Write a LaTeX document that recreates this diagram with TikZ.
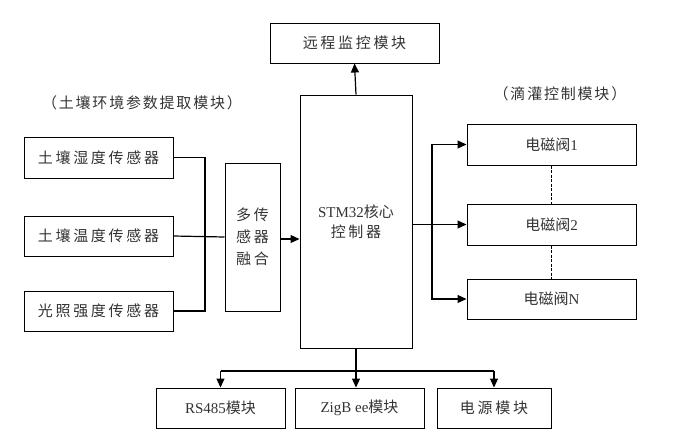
\documentclass[tikz,border=0pt]{standalone}
\usepackage{fontspec}
\setmainfont{Liberation Serif}
\newfontfamily\cjk[LetterSpace=18]{Noto Sans CJK SC}
\newfontfamily\cjkl[LetterSpace=12]{Noto Sans CJK SC}
\newfontfamily\cjkn[LetterSpace=0]{Noto Sans CJK SC}
\usetikzlibrary{arrows.meta}
\begin{document}
\begin{tikzpicture}[x=1pt,y=-1pt,
  box/.style={draw,line width=1pt,inner sep=0pt,text=black!80,font=\fontsize{15}{18}\selectfont},
  conn/.style={line width=1.2pt},
  arr/.style={conn,-{Triangle[length=9pt,width=8pt]}},
  lbl/.style={inner sep=0pt,text=black!80,font=\fontsize{15}{18}\selectfont}]
\useasboundingbox (0,0) rectangle (683,440);
% top
\node[box,minimum width=169pt,minimum height=40pt] (remote) at (354.5,43) {\cjk 远程监控模块};
\node[box,minimum width=112pt,minimum height=253pt,align=center] (stm) at (356,221.5)
  {STM32{\cjkn 核心}\\[2pt]{\cjk 控制器}};
% sensors
\node[lbl] (lab1) at (142,103) {\cjkl （土壤环境参数提取模块）};
\node[box,minimum width=149pt,minimum height=41pt] (s1) at (98.5,157.5) {\cjk 土壤湿度传感器};
\node[box,minimum width=149pt,minimum height=40pt] (s2) at (98.5,236) {\cjk 土壤温度传感器};
\node[box,minimum width=149pt,minimum height=40pt] (s3) at (98.5,311) {\cjk 光照强度传感器};
\node[box,minimum width=55pt,minimum height=148pt,align=center] (fuse) at (252.5,237)
  {\cjk 多传\\[4pt]\cjk 感器\\[4pt]\cjk 融合};
% valves
\node[lbl] (lab2) at (560,94) {\cjkl （滴灌控制模块）};
\node[box,minimum width=169pt,minimum height=41pt] (v1) at (551.5,144.5) {{\cjkn 电磁阀}1};
\node[box,minimum width=169pt,minimum height=41pt] (v2) at (551.5,224.5) {{\cjkn 电磁阀}2};
\node[box,minimum width=169pt,minimum height=40pt] (vN) at (551.5,299) {{\cjkn 电磁阀}N};
% bottom
\node[box,minimum width=129pt,minimum height=40pt] (b1) at (220.5,408) {RS485{\cjkn 模块}};
\node[box,minimum width=129pt,minimum height=40pt] (b2) at (359.5,408) {ZigB ee{\cjkn 模块}};
\node[box,minimum width=114pt,minimum height=40pt] (b3) at (494,408) {\cjk 电源模块};
% coordinates
\coordinate (lbus) at (205,236);
\coordinate (rbus) at (432,224.5);
\coordinate (bbus) at (356,371);
% left connectors
\draw[conn] (s1.east) -| (lbus) |- (s3.east);
\draw[conn] (s2.east) -- (fuse.west);
\draw[arr] (fuse.east |- 0,239) -- (stm.west |- 0,239);
% top
\draw[arr] (stm.north) -- (remote.south);
% right
\draw[conn] (stm.east |- rbus) -- (rbus);
\draw[arr] (rbus) -- (v2.west);
\draw[arr] (rbus) |- (v1.west);
\draw[arr] (rbus) |- (vN.west);
\draw[line width=0.9pt,dash pattern=on 3pt off 1.5pt] (v1.south) -- (v2.north);
\draw[line width=0.9pt,dash pattern=on 3pt off 1.5pt] (v2.south) -- (vN.north);
% bottom
\draw[conn] (stm.south) -- (bbus);
\draw[conn] (b1.north |- bbus) -- (b3.north |- bbus);
\draw[arr] (b1.north |- bbus) -- (b1.north);
\draw[arr] (bbus) -- (bbus |- b2.north);
\draw[arr] (b3.north |- bbus) -- (b3.north);
\end{tikzpicture}
\end{document}
